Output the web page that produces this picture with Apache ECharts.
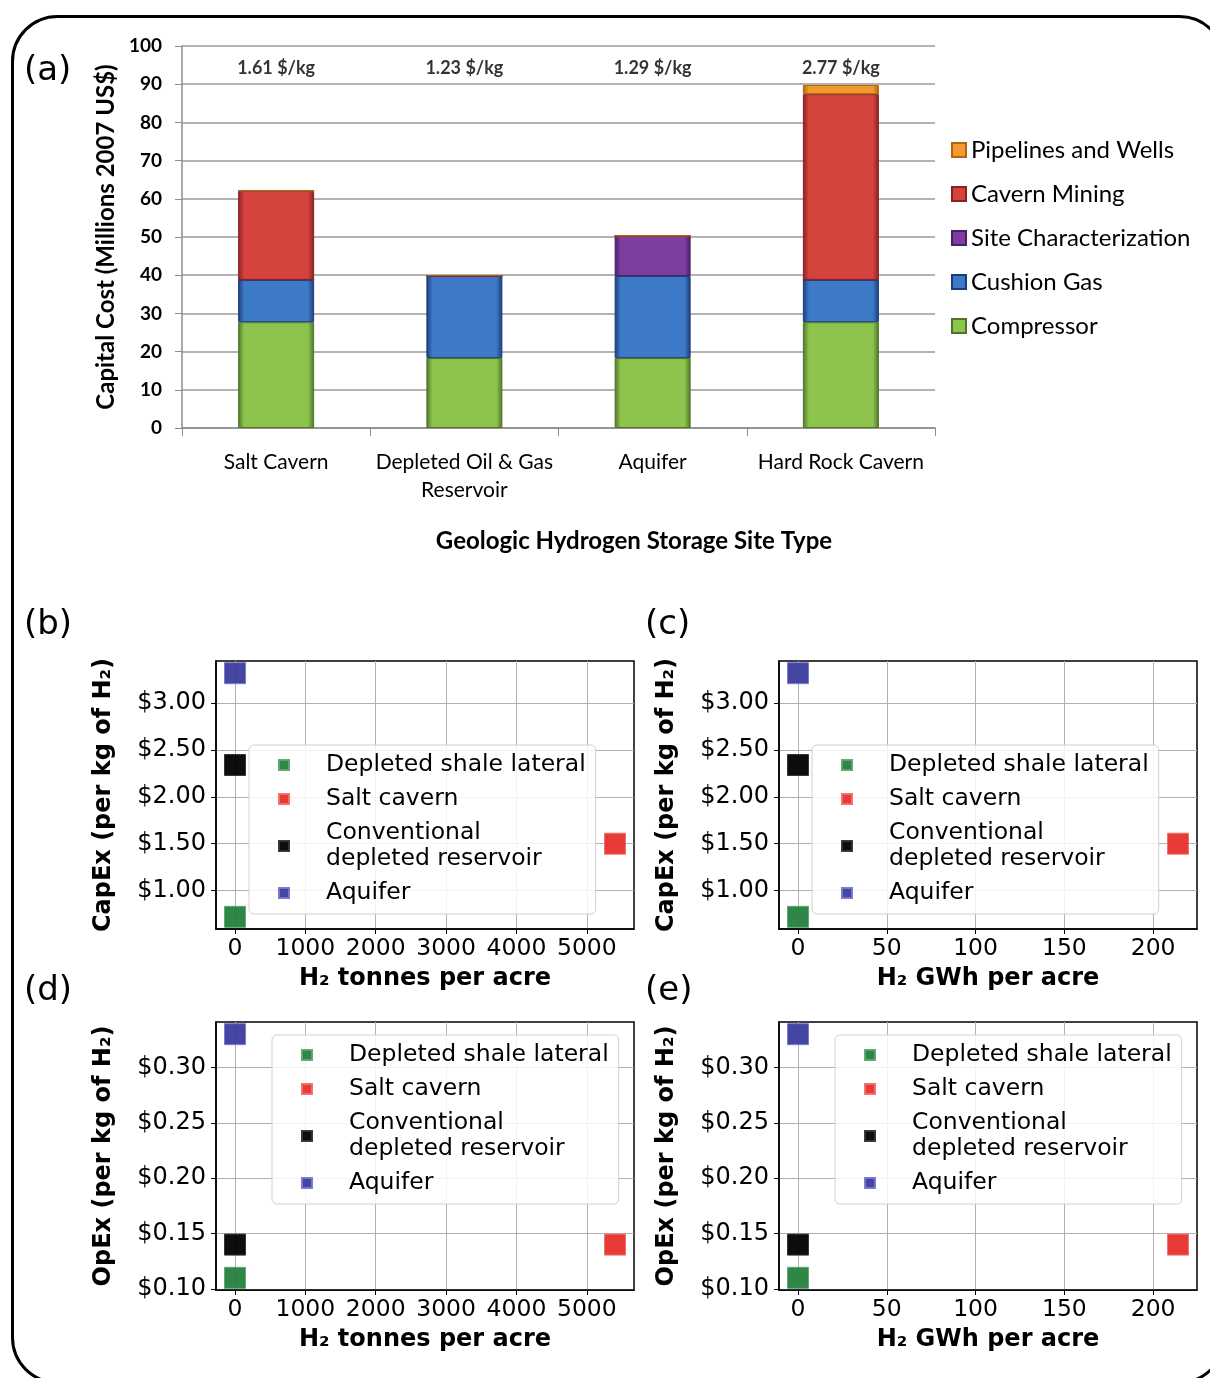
<!DOCTYPE html>
<html lang="en">
<head>
  <meta charset="utf-8">
  <title>Geologic hydrogen storage costs</title>
  <style>
    html, body {
      margin: 0;
      background: #fff;
    }
    #container {
      width: 1210px;
      height: 1378px;
    }
  </style>
</head>
<body>
  <div id="container"></div>

  <script type="text/javascript" src="https://cdn.jsdelivr.net/npm/echarts@6/dist/echarts.min.js"></script>

  <script type="text/javascript">
    // (a) capital cost per site type, millions 2007 US$
    var siteCategories = ['Salt Cavern', 'Depleted Oil & Gas\nReservoir', 'Aquifer', 'Hard Rock Cavern'];
    var compressor = [27.7, 18.3, 18.3, 27.7];
    var cushionGas = [11.1, 21.5, 21.5, 11.1];
    var siteCharacterization = [0, 0, 10.5, 0];
    var cavernMining = [23.3, 0, 0, 48.6];
    var pipelinesWells = [0, 0.2, 0, 2.4];
    var costPerKg = ['1.61 $/kg', '1.23 $/kg', '1.29 $/kg', '2.77 $/kg'];
    var costLabelLevel = 94.3;

    // (b)-(e) storage types
    var storageTypes = ['Depleted shale lateral', 'Salt cavern', 'Conventional\ndepleted reservoir', 'Aquifer'];
    var tonnesPerAcre = [0, 5400, 0, 0];
    var gwhPerAcre = [0, 214, 0, 0];
    var capexPerKg = [0.72, 1.50, 2.34, 3.32];
    var opexPerKg = [0.11, 0.14, 0.14, 0.33];
    var tonneTicks = [0, 1000, 2000, 3000, 4000, 5000];
    var gwhTicks = [0, 50, 100, 150, 200];
    var capexTicks = [1.0, 1.5, 2.0, 2.5, 3.0];
    var opexTicks = [0.10, 0.15, 0.20, 0.25, 0.30];

    var markerFill = ['#24803c', '#e8302a', '#000000', '#3a3c9c'];
    var markerEdge = ['#5aa870', '#f07070', '#333333', '#7678d0'];

    var dom = document.getElementById('container');
    var myChart = echarts.init(dom, null, { renderer: 'canvas' });

    // matplotlib style 5% margins
    function padded(vals) {
      var lo = Math.min.apply(null, vals), hi = Math.max.apply(null, vals);
      var m = (hi - lo) * 0.05;
      return { min: lo - m, max: hi + m };
    }

    var sciFont = 'DejaVu Sans';
    var xlFont = 'Lato';

    function sciX(grid, vals, ticks, name) {
      var ext = padded(vals);
      return {
        type: 'value', gridIndex: grid, min: ext.min, max: ext.max,
        name: name, nameLocation: 'middle', nameGap: 38,
        nameTextStyle: { fontFamily: sciFont, fontWeight: 'bold', fontSize: 24, color: '#000' },
        axisLine: { show: true, onZero: false, lineStyle: { color: '#000', width: 1.5 } },
        axisTick: { show: true, customValues: ticks, length: 5, lineStyle: { color: '#000' } },
        axisLabel: {
          customValues: ticks, margin: 8, fontFamily: sciFont, fontSize: 23.5, color: '#000',
          formatter: function (v) { return String(v); }
        },
        splitLine: { show: true, lineStyle: { color: '#b0b0b0', width: 1 } }
      };
    }

    function sciY(grid, vals, ticks, name) {
      var ext = padded(vals);
      return {
        type: 'value', gridIndex: grid, min: ext.min, max: ext.max,
        name: name, nameLocation: 'middle', nameGap: 100,
        nameTextStyle: { fontFamily: sciFont, fontWeight: 'bold', fontSize: 24, color: '#000' },
        axisLine: { show: true, onZero: false, lineStyle: { color: '#000', width: 1.5 } },
        axisTick: { show: true, customValues: ticks, length: 5, lineStyle: { color: '#000' } },
        axisLabel: {
          customValues: ticks, margin: 10, fontFamily: sciFont, fontSize: 24, color: '#000',
          formatter: function (v) { return '$' + v.toFixed(2); }
        },
        splitLine: { show: true, lineStyle: { color: '#b0b0b0', width: 1 } }
      };
    }

    function sciLegend(left, top) {
      return {
        data: storageTypes, orient: 'vertical', left: left, top: top,
        selectedMode: false, icon: 'rect', itemWidth: 10, itemHeight: 10, itemGap: 8,
        padding: [7, 10, 8, 29],
        backgroundColor: 'rgba(255,255,255,0.85)', borderColor: '#d0d0d0', borderWidth: 1, borderRadius: 5,
        textStyle: { fontFamily: sciFont, fontSize: 23.5, color: '#000', lineHeight: 26, padding: [0, 0, 0, 32] }
      };
    }

    function barSeries(name, data, color, edge) {
      return {
        type: 'bar', name: name, xAxisIndex: 0, yAxisIndex: 0, stack: 'cost', barWidth: 76,
        data: data,
        itemStyle: {
          color: new echarts.graphic.LinearGradient(0, 0, 1, 0, [
            { offset: 0, color: edge }, { offset: 0.08, color: color },
            { offset: 0.92, color: color }, { offset: 1, color: edge }
          ]),
          borderColor: edge, borderWidth: 1
        }
      };
    }

    var series = [
      barSeries('Compressor', compressor, '#8cc44e', '#4f7428'),
      barSeries('Cushion Gas', cushionGas, '#3c79c6', '#1d3c78'),
      barSeries('Site Characterization', siteCharacterization, '#7c3ea0', '#4a1f66'),
      barSeries('Cavern Mining', cavernMining, '#d5433f', '#8a2020'),
      barSeries('Pipelines and Wells', pipelinesWells, '#f29b2c', '#b06512'),
      {
        type: 'scatter', xAxisIndex: 0, yAxisIndex: 0, symbolSize: 0, silent: true,
        data: siteCategories.map(function (c, i) { return [i, costLabelLevel]; }),
        label: {
          show: true, position: 'inside', fontFamily: xlFont, fontWeight: 'bold', fontSize: 18, color: '#000',
          formatter: function (p) { return costPerKg[p.dataIndex]; }
        }
      }
    ];

    var panels = [
      { grid: 1, x: tonnesPerAcre, y: capexPerKg },
      { grid: 2, x: gwhPerAcre, y: capexPerKg },
      { grid: 3, x: tonnesPerAcre, y: opexPerKg },
      { grid: 4, x: gwhPerAcre, y: opexPerKg }
    ];
    panels.forEach(function (p) {
      storageTypes.forEach(function (name, i) {
        series.push({
          type: 'scatter', name: name, xAxisIndex: p.grid, yAxisIndex: p.grid,
          symbol: 'rect', symbolSize: 21,
          data: [[p.x[i], p.y[i]]],
          itemStyle: { color: markerFill[i], borderColor: markerEdge[i], borderWidth: 1, opacity: 0.95 }
        });
      });
    });

    var panelLetter = { fontFamily: sciFont, fontSize: 34, fill: '#000' };

    var option = {
      animation: false,
      backgroundColor: '#fff',
      grid: [
        { left: 182, top: 46, width: 753, height: 382 },
        { left: 216, top: 661, width: 418, height: 268, show: true, borderColor: '#000', borderWidth: 1.5, backgroundColor: '#fff' },
        { left: 779, top: 661, width: 418, height: 268, show: true, borderColor: '#000', borderWidth: 1.5, backgroundColor: '#fff' },
        { left: 216, top: 1022, width: 418, height: 268, show: true, borderColor: '#000', borderWidth: 1.5, backgroundColor: '#fff' },
        { left: 779, top: 1022, width: 418, height: 268, show: true, borderColor: '#000', borderWidth: 1.5, backgroundColor: '#fff' }
      ],
      xAxis: [
        {
          type: 'category', gridIndex: 0, data: siteCategories,
          axisLine: { lineStyle: { color: '#8c8c8c', width: 1.5 } },
          axisTick: { show: true, interval: 0, length: 8, lineStyle: { color: '#8c8c8c' } },
          axisLabel: { interval: 0, margin: 20, fontFamily: xlFont, fontSize: 21, color: '#000', lineHeight: 28 }
        },
        sciX(1, tonnesPerAcre, tonneTicks, 'H₂ tonnes per acre'),
        sciX(2, gwhPerAcre, gwhTicks, 'H₂ GWh per acre'),
        sciX(3, tonnesPerAcre, tonneTicks, 'H₂ tonnes per acre'),
        sciX(4, gwhPerAcre, gwhTicks, 'H₂ GWh per acre')
      ],
      yAxis: [
        {
          type: 'value', gridIndex: 0, min: 0, max: 100, interval: 10,
          name: 'Capital Cost (Millions 2007 US$)', nameLocation: 'middle', nameGap: 62,
          nameTextStyle: { fontFamily: xlFont, fontWeight: 'bold', fontSize: 24, color: '#000' },
          axisLine: { show: true, lineStyle: { color: '#8c8c8c', width: 1.5 } },
          axisTick: { show: true, length: 7, lineStyle: { color: '#8c8c8c' } },
          axisLabel: { margin: 20, fontFamily: xlFont, fontWeight: 'bold', fontSize: 19, color: '#000' },
          splitLine: { show: true, lineStyle: { color: '#9a9a9a', width: 1.5 } }
        },
        sciY(1, capexPerKg, capexTicks, 'CapEx (per kg of H₂)'),
        sciY(2, capexPerKg, capexTicks, 'CapEx (per kg of H₂)'),
        sciY(3, opexPerKg, opexTicks, 'OpEx (per kg of H₂)'),
        sciY(4, opexPerKg, opexTicks, 'OpEx (per kg of H₂)')
      ],
      legend: [
        {
          data: ['Pipelines and Wells', 'Cavern Mining', 'Site Characterization', 'Cushion Gas', 'Compressor'],
          orient: 'vertical', left: 946, top: 133, selectedMode: false,
          icon: 'rect', itemWidth: 14, itemHeight: 14, itemGap: 20,
          textStyle: { fontFamily: xlFont, fontSize: 24, color: '#000' }
        },
        sciLegend(249, 745),
        sciLegend(812, 745),
        sciLegend(272, 1035),
        sciLegend(835, 1035)
      ],
      graphic: [
        {
          type: 'rect', left: 10, top: 14, silent: true, z: -10,
          shape: { width: 1212, height: 1366, r: 45 },
          style: { fill: 'none', stroke: '#000', lineWidth: 3 }
        },
        { type: 'text', left: 24, top: 54, style: Object.assign({ text: '(a)' }, panelLetter) },
        { type: 'text', left: 24, top: 608, style: Object.assign({ text: '(b)' }, panelLetter) },
        { type: 'text', left: 645, top: 608, style: Object.assign({ text: '(c)' }, panelLetter) },
        { type: 'text', left: 24, top: 974, style: Object.assign({ text: '(d)' }, panelLetter) },
        { type: 'text', left: 645, top: 974, style: Object.assign({ text: '(e)' }, panelLetter) },
        {
          type: 'text', x: 634, y: 541,
          style: {
            text: 'Geologic Hydrogen Storage Site Type', fontFamily: xlFont, fontWeight: 'bold', fontSize: 24,
            fill: '#000', align: 'center', verticalAlign: 'middle'
          }
        }
      ],
      series: series
    };

    myChart.setOption(option);
    window.addEventListener('resize', myChart.resize);
  </script>
</body>
</html>
